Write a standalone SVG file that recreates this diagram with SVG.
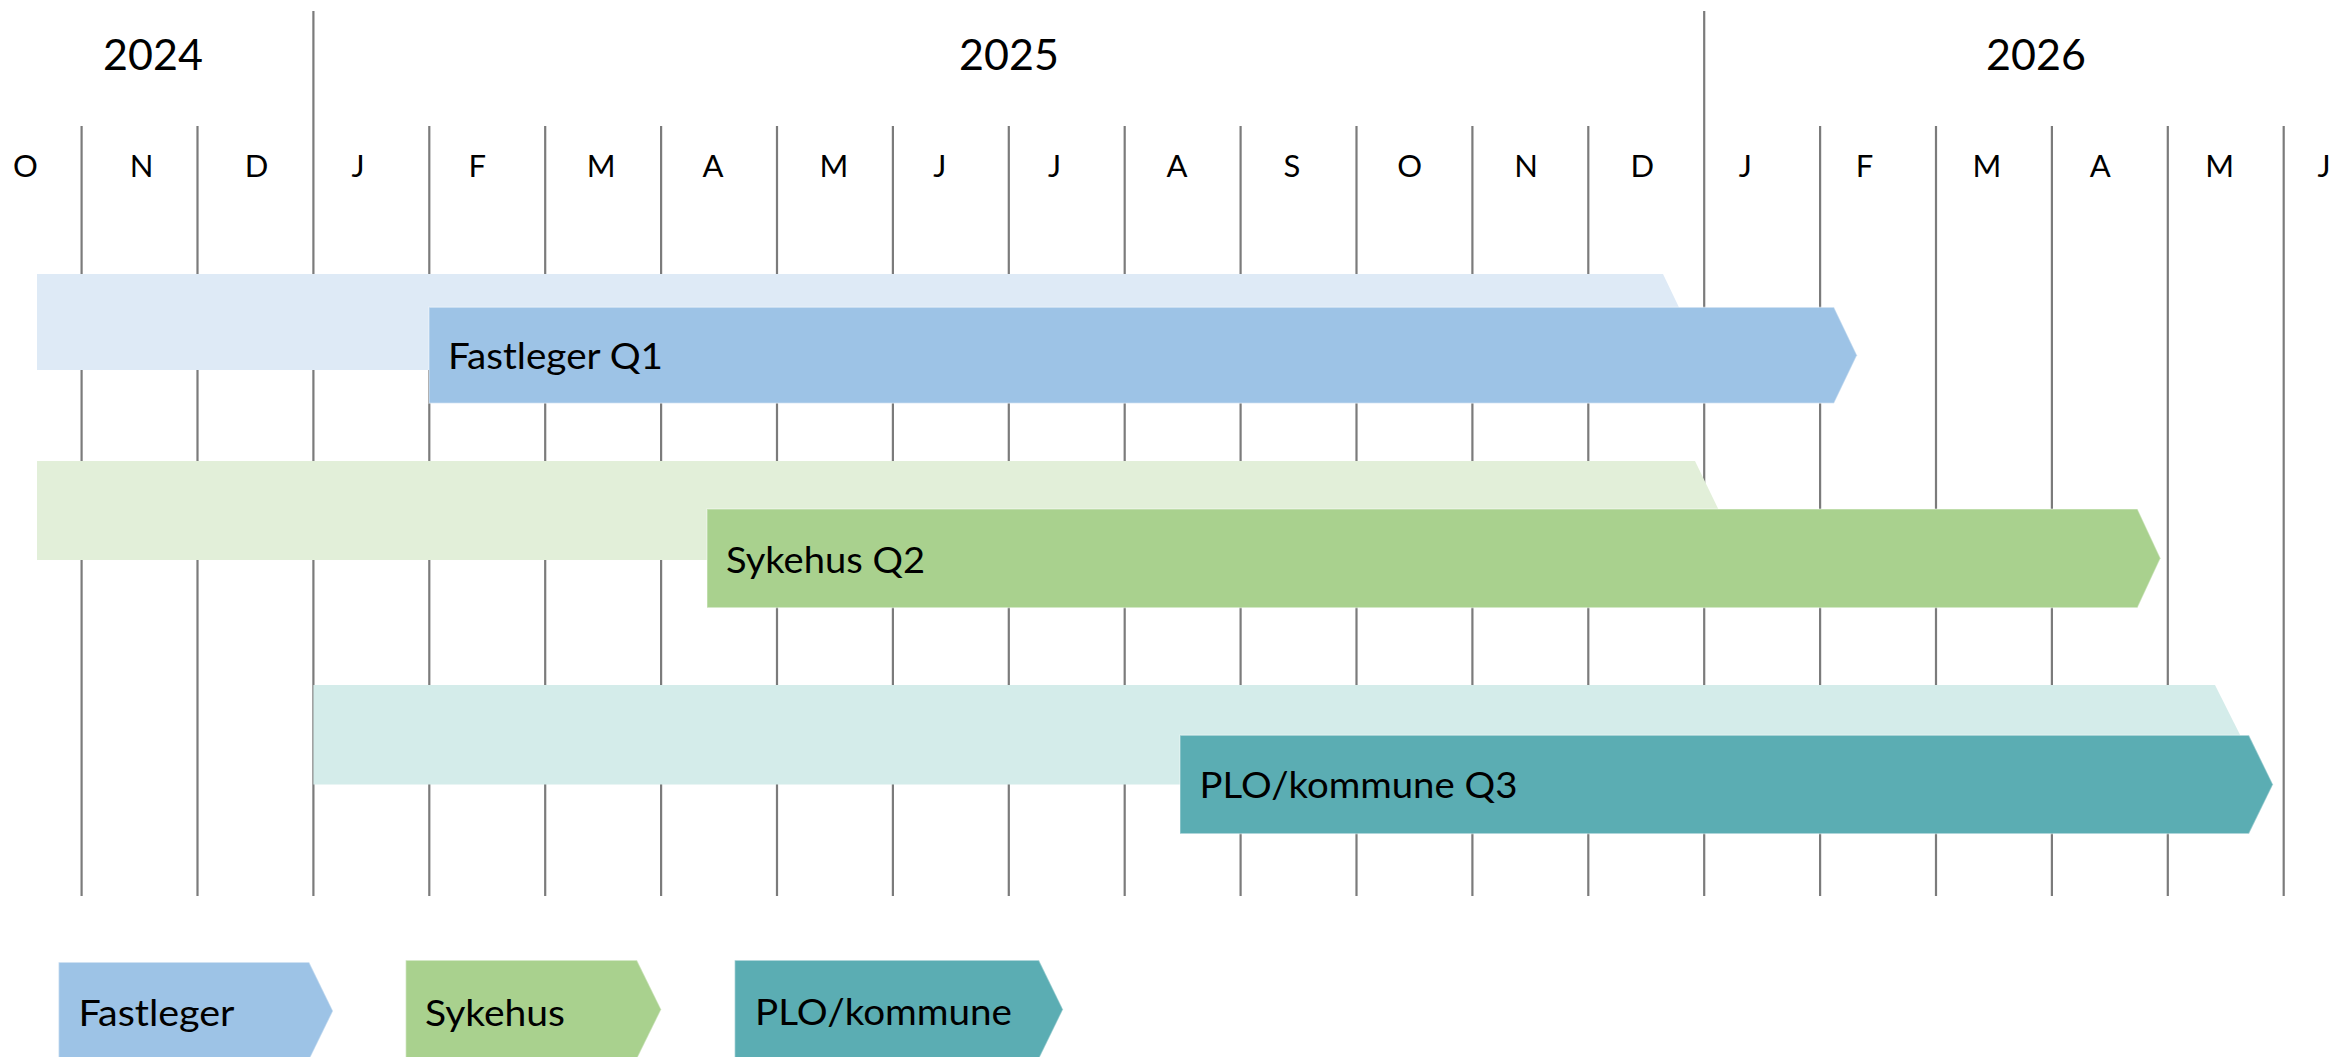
<svg xmlns="http://www.w3.org/2000/svg" width="2339" height="1057" viewBox="0 0 2339 1057">
<style>
  text { font-family: Lato, "Liberation Sans", sans-serif; fill: #000; }
  .year { font-size: 43px; text-anchor: middle; }
  .mon { font-size: 31px; text-anchor: middle; }
  .lbl { font-size: 37px; }
  .grid line { stroke: #7B7B7B; stroke-width: 2.2; }
  .edge { stroke: #ffffff; stroke-opacity: 0.35; stroke-width: 1.5; }
  .b1l { fill: #DEEAF6; } .b1d { fill: #9DC3E6; }
  .b2l { fill: #E2EFD9; } .b2d { fill: #A9D18E; }
  .b3l { fill: #D4ECEA; } .b3d { fill: #5BADB3; }
</style>
<rect width="2339" height="1057" fill="#ffffff"/>
<g id="grid" class="grid">
  <line x1="81.6" y1="126" x2="81.6" y2="896"/>
  <line x1="197.5" y1="126" x2="197.5" y2="896"/>
  <line x1="313.4" y1="11" x2="313.4" y2="896"/>
  <line x1="429.3" y1="126" x2="429.3" y2="896"/>
  <line x1="545.2" y1="126" x2="545.2" y2="896"/>
  <line x1="661.1" y1="126" x2="661.1" y2="896"/>
  <line x1="777" y1="126" x2="777" y2="896"/>
  <line x1="892.9" y1="126" x2="892.9" y2="896"/>
  <line x1="1008.8" y1="126" x2="1008.8" y2="896"/>
  <line x1="1124.7" y1="126" x2="1124.7" y2="896"/>
  <line x1="1240.6" y1="126" x2="1240.6" y2="896"/>
  <line x1="1356.5" y1="126" x2="1356.5" y2="896"/>
  <line x1="1472.4" y1="126" x2="1472.4" y2="896"/>
  <line x1="1588.3" y1="126" x2="1588.3" y2="896"/>
  <line x1="1704.2" y1="11" x2="1704.2" y2="896"/>
  <line x1="1820.1" y1="126" x2="1820.1" y2="896"/>
  <line x1="1936" y1="126" x2="1936" y2="896"/>
  <line x1="2051.9" y1="126" x2="2051.9" y2="896"/>
  <line x1="2167.8" y1="126" x2="2167.8" y2="896"/>
  <line x1="2283.7" y1="126" x2="2283.7" y2="896"/>
</g>
<g id="years">
  <text class="year" x="153" y="70">2024</text>
  <text class="year" x="1009" y="70">2025</text>
  <text class="year" x="2036" y="70">2026</text>
</g>
<g id="months">
  <text class="mon" x="25.4" y="177">O</text>
  <text class="mon" x="141.7" y="177">N</text>
  <text class="mon" x="256.6" y="177">D</text>
  <text class="mon" x="358" y="177">J</text>
  <text class="mon" x="477.3" y="177">F</text>
  <text class="mon" x="601.2" y="177">M</text>
  <text class="mon" x="713" y="177">A</text>
  <text class="mon" x="833.9" y="177">M</text>
  <text class="mon" x="939.8" y="177">J</text>
  <text class="mon" x="1054.6" y="177">J</text>
  <text class="mon" x="1177" y="177">A</text>
  <text class="mon" x="1291.8" y="177">S</text>
  <text class="mon" x="1409.7" y="177">O</text>
  <text class="mon" x="1526" y="177">N</text>
  <text class="mon" x="1642.4" y="177">D</text>
  <text class="mon" x="1745.3" y="177">J</text>
  <text class="mon" x="1864.6" y="177">F</text>
  <text class="mon" x="1986.9" y="177">M</text>
  <text class="mon" x="2100.3" y="177">A</text>
  <text class="mon" x="2219.6" y="177">M</text>
  <text class="mon" x="2324.1" y="177">J</text>
</g>
<g id="fastleger-plan">
  <polygon class="b1l" points="37,274 1663,274 1686,322 1663,370 37,370"/>
</g>
<g id="fastleger-q1">
  <polygon class="b1d edge" points="429,307.3 1834,307.3 1857,355.3 1834,403.3 429,403.3"/>
  <text class="lbl" x="448" y="369" textLength="215" lengthAdjust="spacingAndGlyphs">Fastleger Q1</text>
</g>
<g id="sykehus-plan">
  <polygon class="b2l" points="37,461 1695,461 1719,510.5 1695,560 37,560"/>
</g>
<g id="sykehus-q2">
  <polygon class="b2d edge" points="707,509 2137.5,509 2160.5,558.3 2137.5,607.7 707,607.7"/>
  <text class="lbl" x="726" y="573.3" textLength="199" lengthAdjust="spacingAndGlyphs">Sykehus Q2</text>
</g>
<g id="plo-plan">
  <polygon class="b3l" points="313.4,685 2215,685 2240,734.7 2215,784.5 313.4,784.5"/>
</g>
<g id="plo-q3">
  <polygon class="b3d edge" points="1180,735.3 2249,735.3 2273,784.5 2249,833.7 1180,833.7"/>
  <text class="lbl" x="1199.5" y="798" textLength="318" lengthAdjust="spacingAndGlyphs">PLO/kommune Q3</text>
</g>
<g id="legend-fastleger">
  <polygon class="b1d edge" points="58.6,962.3 309.2,962.3 333,1011 309.2,1059.7 58.6,1059.7"/>
  <text class="lbl" x="78.5" y="1026" textLength="156" lengthAdjust="spacingAndGlyphs">Fastleger</text>
</g>
<g id="legend-sykehus">
  <polygon class="b2d edge" points="405.7,960.3 637,960.3 661.2,1009.5 637,1058.7 405.7,1058.7"/>
  <text class="lbl" x="425" y="1025.5" textLength="140" lengthAdjust="spacingAndGlyphs">Sykehus</text>
</g>
<g id="legend-plo">
  <polygon class="b3d edge" points="734.7,960.3 1039,960.3 1063,1009.5 1039,1058.7 734.7,1058.7"/>
  <text class="lbl" x="755" y="1025.3" textLength="257" lengthAdjust="spacingAndGlyphs">PLO/kommune</text>
</g>
</svg>
